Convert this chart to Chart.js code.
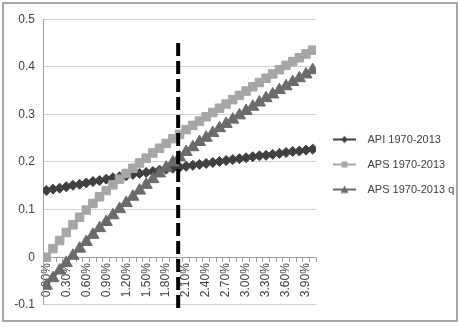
<!DOCTYPE html>
<html>
<head>
<meta charset="utf-8">
<style>
  body { margin: 0; background: #fff; }
  #box { position: absolute; left: 2px; top: 2px; width: 456px; height: 320px;
         border: 2px solid #a6a6a6; box-sizing: border-box; }
</style>
</head>
<body>
<div id="box"><canvas id="myChart"></canvas></div>
<script src="https://cdn.jsdelivr.net/npm/chart.js@4.4.1/dist/chart.umd.min.js"></script>
<script>
// categories (growth rate)
const xLabels = ["0.00%", "0.10%", "0.20%", "0.30%", "0.40%", "0.50%", "0.60%", "0.70%", "0.80%", "0.90%",
                 "1.00%", "1.10%", "1.20%", "1.30%", "1.40%", "1.50%", "1.60%", "1.70%", "1.80%", "1.90%",
                 "2.00%", "2.10%", "2.20%", "2.30%", "2.40%", "2.50%", "2.60%", "2.70%", "2.80%", "2.90%",
                 "3.00%", "3.10%", "3.20%", "3.30%", "3.40%", "3.50%", "3.60%", "3.70%", "3.80%", "3.90%",
                 "4.00%"];

const api = [0.140, 0.143, 0.145, 0.148, 0.151, 0.153, 0.156, 0.159, 0.161, 0.164,
             0.167, 0.169, 0.171, 0.174, 0.176, 0.178, 0.180, 0.183, 0.185, 0.187,
             0.189, 0.191, 0.193, 0.195, 0.197, 0.199, 0.201, 0.203, 0.205, 0.207,
             0.209, 0.211, 0.213, 0.214, 0.216, 0.218, 0.220, 0.222, 0.223, 0.225,
             0.227];
const aps = [0.000, 0.018, 0.035, 0.052, 0.068, 0.084, 0.099, 0.113, 0.127, 0.140,
             0.152, 0.164, 0.176, 0.187, 0.198, 0.208, 0.219, 0.229, 0.239, 0.249,
             0.258, 0.268, 0.277, 0.286, 0.295, 0.304, 0.313, 0.322, 0.331, 0.340,
             0.349, 0.358, 0.367, 0.376, 0.385, 0.394, 0.403, 0.411, 0.419, 0.427,
             0.435];
const apsQ = [-0.060, -0.044, -0.028, -0.012, 0.003, 0.018, 0.032, 0.047, 0.061, 0.074,
              0.088, 0.101, 0.114, 0.127, 0.140, 0.152, 0.164, 0.176, 0.188, 0.199,
              0.210, 0.221, 0.231, 0.242, 0.251, 0.261, 0.271, 0.280, 0.289, 0.298,
              0.307, 0.316, 0.325, 0.334, 0.342, 0.351, 0.359, 0.368, 0.376, 0.384,
              0.393];

const seriesNames = ["API 1970-2013", "APS 1970-2013", "APS 1970-2013 q"];
const yTicks = [-0.1, 0, 0.1, 0.2, 0.3, 0.4, 0.5];

// vertical marker line
const markX = 1.98;
const markY = [0.45, -0.11];

const xVals = xLabels.map(s => parseFloat(s));
const pts = arr => arr.map((v, i) => ({x: xVals[i], y: v}));

const colors = ["#404040", "#a6a6a6", "#6b6b6b"];
const styles = ["rectRot", "rect", "triangle"];

// legend sample: short line with the marker in the middle
function legendIcon(color, style) {
    const c = document.createElement("canvas");
    c.width = 32; c.height = 12;
    const g = c.getContext("2d");
    g.strokeStyle = color; g.fillStyle = color; g.lineWidth = 2;
    g.beginPath(); g.moveTo(3, 6); g.lineTo(26, 6); g.stroke();
    g.beginPath();
    if (style === "rectRot") {
        g.moveTo(14.5, 2.5); g.lineTo(18, 6); g.lineTo(14.5, 9.5); g.lineTo(11, 6);
    } else if (style === "rect") {
        g.rect(11.5, 3, 6, 6);
    } else {
        g.moveTo(14.5, 2); g.lineTo(18.5, 9.5); g.lineTo(10.5, 9.5);
    }
    g.closePath(); g.fill();
    return c;
}
const icons = colors.map((c, i) => legendIcon(c, styles[i]));

Chart.defaults.font.family = '"Liberation Sans", Arial, sans-serif';
Chart.defaults.font.size = 11;
Chart.defaults.color = "#404040";

const mk = (i, data, r) => ({
    label: seriesNames[i],
    data: pts(data),
    borderColor: colors[i],
    backgroundColor: colors[i],
    borderWidth: 2,
    pointStyle: styles[i],
    pointRadius: r,
    pointBorderWidth: 1,
    pointBackgroundColor: colors[i],
    pointBorderColor: colors[i],
    order: 3 - i
});

new Chart("myChart", {
    type: "line",
    data: {
        datasets: [
            mk(0, api, 5),
            mk(1, aps, 6),
            mk(2, apsQ, 7),
            {
                label: "mark",
                data: markY.map(y => ({x: markX, y: y})),
                borderColor: "#000",
                borderWidth: 4,
                borderDash: [13, 5],
                pointRadius: 0,
                clip: false,
                order: 0
            }
        ]
    },
    options: {
        responsive: true,
        maintainAspectRatio: false,
        animation: false,
        layout: { padding: { top: 15, bottom: 10, left: 4, right: 0 } },
        plugins: {
            tooltip: { enabled: false },
            legend: {
                position: "right",
                maxWidth: 140,
                labels: {
                    usePointStyle: true,
                    pointStyleWidth: 32,
                    padding: 14,
                    font: { size: 11 },
                    generateLabels: chart => seriesNames.map((name, i) => ({
                        text: name,
                        pointStyle: icons[i],
                        datasetIndex: i,
                        fillStyle: colors[i],
                        strokeStyle: colors[i],
                        lineWidth: 0,
                        hidden: false,
                        fontColor: "#404040"
                    }))
                }
            }
        },
        scales: {
            x: {
                type: "linear",
                position: { y: 0 },
                min: -0.05,
                max: 4.05,
                afterBuildTicks: s => { s.ticks = xVals.map(v => ({value: v})); },
                ticks: {
                    autoSkip: false,
                    minRotation: 90,
                    maxRotation: 90,
                    padding: 2,
                    font: { size: 12 },
                    callback: (v, i) => i % 3 === 0 ? xLabels[i] : ""
                },
                grid: { drawOnChartArea: false, offset: true, tickLength: 4, color: "#a0a0a0" },
                border: { color: "#a0a0a0" }
            },
            y: {
                min: -0.1,
                max: 0.5,
                afterBuildTicks: s => { s.ticks = yTicks.map(v => ({value: v})); },
                afterFit: s => { s.width = 35; },
                ticks: { padding: 8, font: { size: 12 }, callback: v => String(v) },
                grid: { color: "#d0d0d0", drawTicks: false },
                border: { color: "#a0a0a0" }
            }
        }
    }
});
</script>
</body>
</html>
